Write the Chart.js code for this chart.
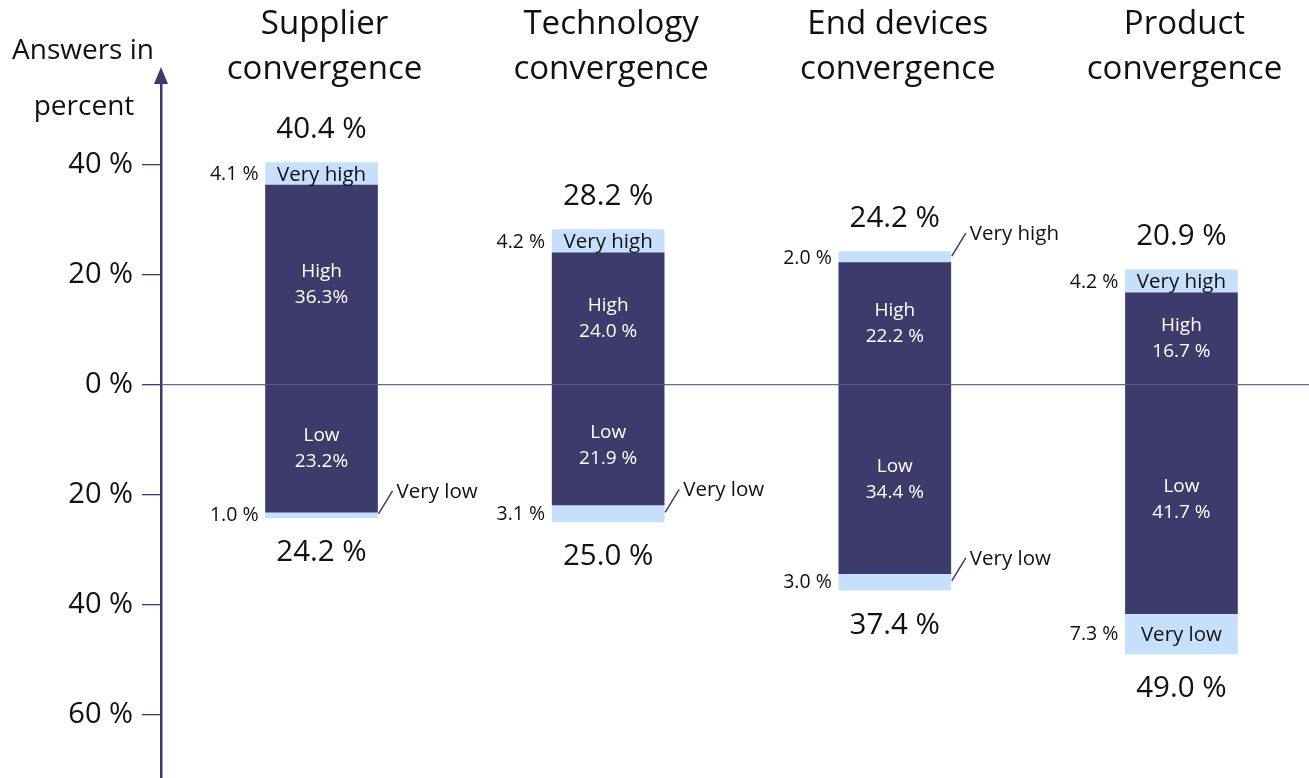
<!DOCTYPE html>
<html><head><meta charset="utf-8">
<script src="https://cdn.jsdelivr.net/npm/chart.js@4"></script>
<style>html,body{margin:0;padding:0;background:#fff}canvas{display:block}</style>
</head><body>
<canvas id="c" width="1309" height="778"></canvas>
<script>
const categories = [['Supplier','convergence'],['Technology','convergence'],['End devices','convergence'],['Product','convergence']];
const veryHigh = [4.1, 4.2, 2.0, 4.2];
const high     = [36.3, 24.0, 22.2, 16.7];
const low      = [23.2, 21.9, 34.4, 41.7];
const veryLow  = [1.0, 3.1, 3.0, 7.3];
const innerSep = ['', ' ', ' ', ' '];
const tickValues = [40, 20, 0, -20, -40, -60];
const axisTitle = ['Answers in', 'percent'];
const segNames = {veryHigh:'Very high', high:'High', low:'Low', veryLow:'Very low'};

const NAVY = '#3d3b6c';
const LIGHT = '#c6e0fb';
const TXT = '#111111';
const FAM = "'Open Sans', 'Noto Sans', sans-serif";

const pts = (arr, sign) => arr.map((v, i) => ({x: i, y: sign * v}));

const labelPlugin = {
  id: 'labelPlugin',
  afterDatasetsDraw(chart) {
    const ctx = chart.ctx;
    const mH = chart.getDatasetMeta(0), mVH = chart.getDatasetMeta(1), mL = chart.getDatasetMeta(2), mVL = chart.getDatasetMeta(3);
    ctx.save();
    categories.forEach((c, i) => {
      const h = mH.data[i], vh = mVH.data[i], l = mL.data[i], vl = mVL.data[i];
      const left = h.x - h.width / 2, right = h.x + h.width / 2;
      ctx.fillStyle = '#ffffff';
      ctx.font = `19px ${FAM}`;
      ctx.textAlign = 'center'; ctx.textBaseline = 'middle';
      let cy = (h.y + h.base) / 2;
      ctx.fillText(segNames.high, h.x, cy - 13);
      ctx.fillText(high[i].toFixed(1) + innerSep[i] + '%', h.x, cy + 13);
      cy = (l.y + l.base) / 2;
      ctx.fillText(segNames.low, l.x, cy - 13);
      ctx.fillText(low[i].toFixed(1) + innerSep[i] + '%', l.x, cy + 13);
      const small = (el, val, name) => {
        const scy = (el.y + el.base) / 2;
        ctx.fillStyle = TXT;
        ctx.font = `19.5px ${FAM}`;
        ctx.textAlign = 'right'; ctx.textBaseline = 'middle';
        ctx.fillText(val.toFixed(1) + ' %', left - 7, scy + 1);
        ctx.font = `20.5px ${FAM}`;
        if (Math.abs(el.base - el.y) >= 20) {
          ctx.textAlign = 'center';
          ctx.fillText(name, el.x, scy + 1);
        } else {
          ctx.strokeStyle = NAVY; ctx.lineWidth = 1.5;
          ctx.beginPath();
          ctx.moveTo(right + 1, scy - 1);
          ctx.lineTo(right + 15, scy - 24);
          ctx.stroke();
          ctx.textAlign = 'left';
          ctx.fillText(name, right + 19, scy - 23);
        }
      };
      small(vh, veryHigh[i], segNames.veryHigh);
      small(vl, veryLow[i], segNames.veryLow);
      ctx.fillStyle = TXT;
      ctx.font = `29.5px ${FAM}`;
      ctx.textAlign = 'center'; ctx.textBaseline = 'middle';
      ctx.fillText((veryHigh[i] + high[i]).toFixed(1) + ' %', h.x, vh.y - 33);
      ctx.fillText((veryLow[i] + low[i]).toFixed(1) + ' %', h.x, vl.y + 35);
    });
    ctx.restore();
  },
  afterDraw(chart) {
    const ctx = chart.ctx;
    const xs = chart.scales.x, ca = chart.chartArea;
    ctx.save();
    ctx.fillStyle = TXT;
    ctx.textAlign = 'center'; ctx.textBaseline = 'middle';
    ctx.font = `33px ${FAM}`;
    categories.forEach((c, i) => {
      const x = xs.getPixelForValue(i);
      ctx.fillText(c[0], x + 3, 25);
      ctx.fillText(c[1], x + 3, 70);
    });
    ctx.font = `28px ${FAM}`;
    ctx.fillText(axisTitle[0], 83, 51);
    ctx.fillText(axisTitle[1], 84, 107);
    const ax = ca.left;
    ctx.fillStyle = NAVY;
    ctx.beginPath();
    ctx.moveTo(ax, ca.top - 16);
    ctx.lineTo(ax - 7, ca.top + 1);
    ctx.lineTo(ax + 7, ca.top + 1);
    ctx.closePath();
    ctx.fill();
    ctx.restore();
  }
};

new Chart(document.getElementById('c'), {
  type: 'bar',
  data: {
    datasets: [
      {label: 'High', data: pts(high, 1), backgroundColor: NAVY},
      {label: 'Very high', data: pts(veryHigh, 1), backgroundColor: LIGHT},
      {label: 'Low', data: pts(low, -1), backgroundColor: NAVY},
      {label: 'Very low', data: pts(veryLow, -1), backgroundColor: LIGHT}
    ]
  },
  options: {
    responsive: false,
    animation: false,
    layout: {padding: {top: 83, left: 0, right: 0, bottom: 0}},
    datasets: {bar: {barThickness: 112, borderWidth: 0}},
    plugins: {legend: {display: false}, tooltip: {enabled: false}},
    scales: {
      x: {type: 'linear', display: false, stacked: true, min: -0.56, max: 3.445, offset: false},
      y: {
        stacked: true,
        min: -71.6, max: 54.9,
        afterFit(s) { s.width = 161; s.paddingTop = 0; s.paddingBottom = 0; },
        afterBuildTicks(s) { s.ticks = tickValues.map(v => ({value: v})); },
        border: {color: NAVY, width: 2.5},
        grid: {
          drawOnChartArea: true,
          color: c => (c.tick && c.tick.value === 0) ? '#6a6890' : 'rgba(0,0,0,0)',
          tickColor: NAVY, tickLength: 19, lineWidth: 1.3
        },
        ticks: {padding: 9, color: TXT, font: {family: FAM, size: 29}, callback: v => Math.abs(v) + ' %'}
      }
    }
  },
  plugins: [labelPlugin]
});
</script>
</body></html>
